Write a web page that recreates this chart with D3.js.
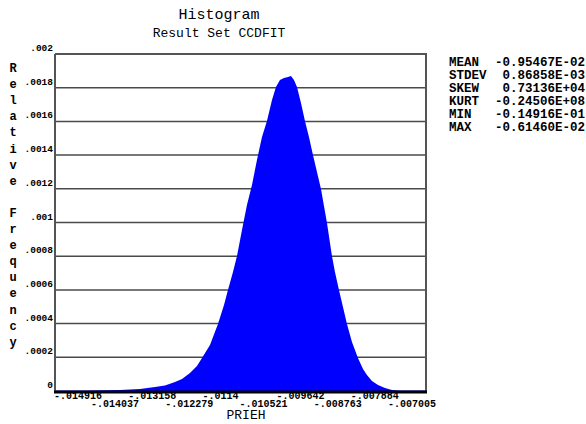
<!DOCTYPE html>
<html>
<head>
<meta charset="utf-8">
<script src="https://d3js.org/d3.v7.min.js"></script>
<style>
  html, body { margin: 0; padding: 0; background: #fff; }
  svg { display: block; }
  text { font-family: "Liberation Mono", "DejaVu Sans Mono", monospace; fill: #000; }
</style>
</head>
<body>
<svg id="chart" width="586" height="424"></svg>
<script>
// ── data ──────────────────────────────────────────────
const binX = [
  -0.014916, -0.014205, -0.013376, -0.012902, -0.012547, -0.012310, -0.012073,
  -0.011907, -0.011718, -0.011552, -0.011433, -0.011244, -0.011055, -0.010912,
  -0.010818, -0.010699, -0.010604, -0.010486, -0.010368, -0.010249, -0.010131,
  -0.010012, -0.009894, -0.009775, -0.009681, -0.009586, -0.009491, -0.009396,
  -0.009325, -0.009254, -0.009183, -0.009088, -0.008994, -0.008899, -0.008804,
  -0.008709, -0.008614, -0.008543, -0.008472, -0.008354, -0.008283, -0.008188,
  -0.008093, -0.007999, -0.007880, -0.007738, -0.007619, -0.007525, -0.007406,
  -0.007264, -0.007098, -0.006932, -0.006743, -0.006388, -0.006126
];
const relFreq = [
  0.000003, 0.000003, 0.000006, 0.000012, 0.000024, 0.000033, 0.000053,
  0.000071, 0.000107, 0.000148, 0.000196, 0.000273, 0.000398, 0.000510,
  0.000599, 0.000706, 0.000801, 0.000955, 0.001104, 0.001223, 0.001371,
  0.001507, 0.001602, 0.001727, 0.001804, 0.001846, 0.001858, 0.001864,
  0.001869, 0.001846, 0.001804, 0.001709, 0.001602, 0.001507, 0.001401,
  0.001300, 0.001199, 0.001098, 0.000997, 0.000801, 0.000706, 0.000599,
  0.000499, 0.000398, 0.000291, 0.000196, 0.000131, 0.000095, 0.000059,
  0.000036, 0.000018, 0.000006, 0.000003, 0.000003, 0.000003
];
const xTickValues = [-0.014916, -0.014037, -0.013158, -0.012279, -0.0114,
                     -0.010521, -0.009642, -0.008763, -0.007884, -0.007005];
const xTickLabels = ["-.014916", "-.014037", "-.013158", "-.012279", "-.0114",
                     "-.010521", "-.009642", "-.008763", "-.007884", "-.007005"];
const yTickValues = [0, 0.0002, 0.0004, 0.0006, 0.0008, 0.001, 0.0012, 0.0014, 0.0016, 0.0018, 0.002];
const yTickLabels = ["0", ".0002", ".0004", ".0006", ".0008", ".001", ".0012", ".0014", ".0016", ".0018", ".002"];
const statNames = ["MEAN", "STDEV", "SKEW", "KURT", "MIN", "MAX"];
const statValues = ["-0.95467E-02", "0.86858E-03", "0.73136E+04", "-0.24506E+08", "-0.14916E-01", "-0.61460E-02"];

// ── layout ────────────────────────────────────────────
const L = 55, R = 426, T = 54, B = 391;
const svg = d3.select("#chart");

const x = d3.scaleLinear().domain([-0.014916, -0.006126]).range([L, R]);
const y = d3.scaleLinear().domain([0, 0.002]).range([B, T]);

// titles
svg.append("text").attr("x", 219).attr("y", 19).attr("text-anchor", "middle")
  .attr("font-size", 15).text("Histogram");
svg.append("text").attr("x", 219).attr("y", 37).attr("text-anchor", "middle")
  .attr("font-size", 13).text("Result Set CCDFIT");

// grid lines
svg.append("g").selectAll("line")
  .data(yTickValues.filter(v => v > 0 && v < 0.002))
  .join("line")
  .attr("x1", L).attr("x2", R)
  .attr("y1", d => y(d)).attr("y2", d => y(d))
  .attr("stroke", "#4a4a4a").attr("stroke-width", 1.5);

// histogram
const pts = binX.map((v, i) => [v, relFreq[i]]);
svg.append("path")
  .datum(pts)
  .attr("fill", "#0000ff")
  .attr("d", d3.area().x(d => x(d[0])).y0(y(0)).y1(d => y(d[1])).curve(d3.curveLinear));

// frame
svg.append("line").attr("x1", L).attr("x2", R + 1).attr("y1", T).attr("y2", T)
  .attr("stroke", "#555").attr("stroke-width", 2);
svg.append("line").attr("x1", R).attr("x2", R).attr("y1", T).attr("y2", B)
  .attr("stroke", "#555").attr("stroke-width", 2);
svg.append("line").attr("x1", L).attr("x2", L).attr("y1", T).attr("y2", B)
  .attr("stroke", "#555").attr("stroke-width", 2);
svg.append("line").attr("x1", L - 1).attr("x2", R + 1).attr("y1", B + 1).attr("y2", B + 1)
  .attr("stroke", "#000").attr("stroke-width", 3);

// y tick labels
svg.append("g").selectAll("text")
  .data(yTickValues)
  .join("text")
  .attr("x", 53).attr("y", d => y(d) - 3)
  .attr("text-anchor", "end")
  .attr("font-size", 9.5).attr("font-weight", "bold")
  .text((d, i) => yTickLabels[i]);

// x tick labels (alternating rows)
svg.append("g").selectAll("text")
  .data(xTickValues)
  .join("text")
  .attr("x", d => x(d) - 1)
  .attr("y", (d, i) => i % 2 === 0 ? 399 : 407)
  .attr("font-size", 10).attr("font-weight", "bold")
  .text((d, i) => xTickLabels[i]);

// axis titles
svg.append("text").attr("x", 246).attr("y", 419).attr("text-anchor", "middle")
  .attr("font-size", 13).text("PRIEH");

const yTitle = "Relative Frequency".split("");
svg.append("g").selectAll("text")
  .data(yTitle)
  .join("text")
  .attr("x", 13).attr("y", (d, i) => 72 + i * 16.1)
  .attr("text-anchor", "middle")
  .attr("font-size", 12).attr("font-weight", "bold")
  .text(d => d);

// statistics
const stats = svg.append("g");
stats.selectAll("text.name")
  .data(statNames)
  .join("text")
  .attr("class", "name")
  .attr("x", 449).attr("y", (d, i) => 66 + i * 13)
  .attr("font-size", 12.5).attr("font-weight", "bold")
  .text(d => d);
stats.selectAll("text.val")
  .data(statValues)
  .join("text")
  .attr("class", "val")
  .attr("x", 585).attr("y", (d, i) => 66 + i * 13)
  .attr("text-anchor", "end")
  .attr("font-size", 12.5).attr("font-weight", "bold")
  .text(d => d);
</script>
</body>
</html>
